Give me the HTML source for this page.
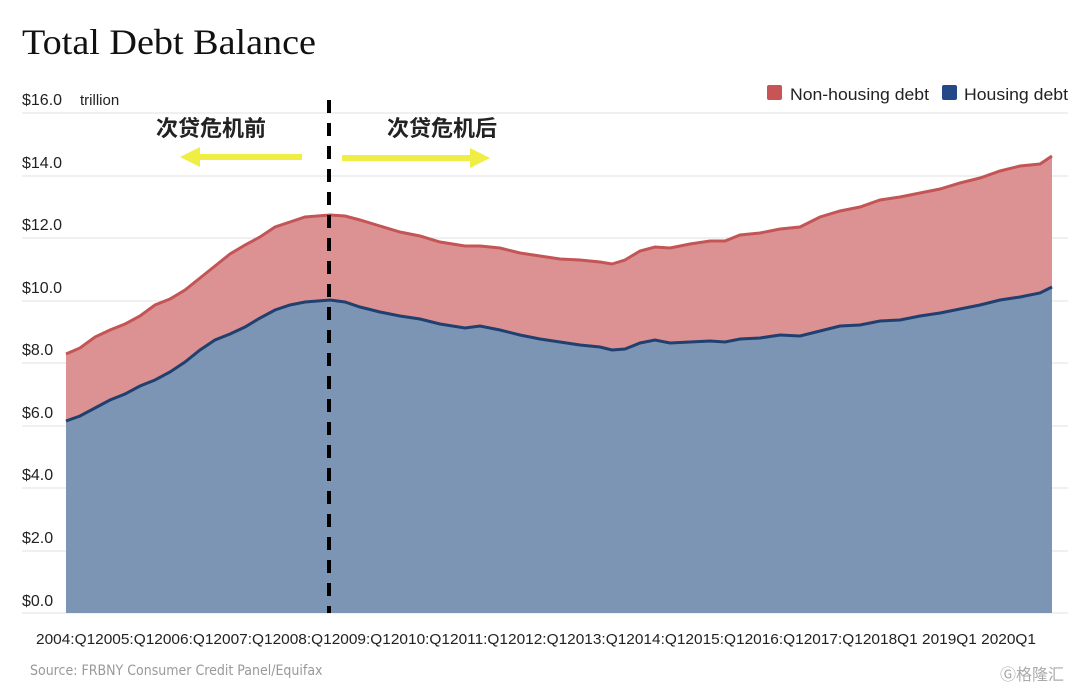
<!DOCTYPE html>
<html><head><meta charset="utf-8"><style>
body{margin:0;background:#fff;}
svg{display:block;}
</style></head><body>
<svg width="1080" height="690" viewBox="0 0 1080 690" xmlns="http://www.w3.org/2000/svg">
<rect width="1080" height="690" fill="#fff"/>
<text x="22" y="54" font-family="Liberation Serif, serif" font-size="36" fill="#111" textLength="294" lengthAdjust="spacingAndGlyphs">Total Debt Balance</text>
<g stroke="#e0e0e0" stroke-width="1">
<line x1="22" x2="1068" y1="113" y2="113"/><line x1="22" x2="1068" y1="176" y2="176"/>
<line x1="22" x2="1068" y1="238" y2="238"/><line x1="22" x2="1068" y1="301" y2="301"/>
<line x1="22" x2="1068" y1="363" y2="363"/><line x1="22" x2="1068" y1="426" y2="426"/>
<line x1="22" x2="1068" y1="488" y2="488"/><line x1="22" x2="1068" y1="551" y2="551"/>
<line x1="22" x2="1068" y1="613" y2="613"/>
</g>
<g font-family="Liberation Sans, sans-serif" font-size="16" fill="#222">
<text x="22" y="105">$16.0</text><text x="80" y="105" font-size="15">trillion</text>
<text x="22" y="168">$14.0</text><text x="22" y="230">$12.0</text><text x="22" y="293">$10.0</text>
<text x="22" y="355">$8.0</text><text x="22" y="418">$6.0</text><text x="22" y="480">$4.0</text>
<text x="22" y="543">$2.0</text><text x="22" y="606">$0.0</text>
</g>
<path fill="#dc9292" stroke="none" d="M66,354 L80,348 95,337 110,330 125,324 140,316 155,305 170,299 185,290 200,278 215,266 230,254 245,245 260,237 275,227 290,222 305,217 330,215 345,216 360,220 380,226 400,232 420,236 440,242 465,246 480,246 500,248 520,253 540,256 560,259 580,260 600,262 612,264 625,260 640,251 655,247 670,248 690,244 710,241 725,241 740,235 760,233 780,229 800,227 820,217 840,211 860,207 880,200 900,197 920,193 940,189 960,183 980,178 1000,171 1020,166 1040,164 1052,156 L1052,613 L66,613Z"/>
<path fill="#7d95b5" stroke="none" d="M66,421 L80,416 95,408 110,400 125,394 140,386 155,380 170,372 185,362 200,350 215,340 230,334 245,327 260,318 275,310 290,305 305,302 330,300 345,302 360,307 380,312 400,316 420,319 440,324 465,328 480,326 500,330 520,335 540,339 560,342 580,345 600,347 612,350 625,349 640,343 655,340 670,343 690,342 710,341 725,342 740,339 760,338 780,335 800,336 820,331 840,326 860,325 880,321 900,320 920,316 940,313 960,309 980,305 1000,300 1020,297 1040,293 1052,287 L1052,613 L66,613Z"/>
<path fill="none" stroke="#c45556" stroke-width="3" d="M66,354 L80,348 95,337 110,330 125,324 140,316 155,305 170,299 185,290 200,278 215,266 230,254 245,245 260,237 275,227 290,222 305,217 330,215 345,216 360,220 380,226 400,232 420,236 440,242 465,246 480,246 500,248 520,253 540,256 560,259 580,260 600,262 612,264 625,260 640,251 655,247 670,248 690,244 710,241 725,241 740,235 760,233 780,229 800,227 820,217 840,211 860,207 880,200 900,197 920,193 940,189 960,183 980,178 1000,171 1020,166 1040,164 1052,156"/>
<path fill="none" stroke="#20406f" stroke-width="3" d="M66,421 L80,416 95,408 110,400 125,394 140,386 155,380 170,372 185,362 200,350 215,340 230,334 245,327 260,318 275,310 290,305 305,302 330,300 345,302 360,307 380,312 400,316 420,319 440,324 465,328 480,326 500,330 520,335 540,339 560,342 580,345 600,347 612,350 625,349 640,343 655,340 670,343 690,342 710,341 725,342 740,339 760,338 780,335 800,336 820,331 840,326 860,325 880,321 900,320 920,316 940,313 960,309 980,305 1000,300 1020,297 1040,293 1052,287"/>
<line x1="329" y1="100" x2="329" y2="613" stroke="#000" stroke-width="4" stroke-dasharray="13,10"/>
<g font-family="Liberation Sans, Noto Sans CJK SC, sans-serif" font-size="22" font-weight="bold" fill="#222">
<text x="156" y="136">次贷危机前</text><text x="387" y="136">次贷危机后</text>
</g>
<g stroke="#f0ee45" stroke-width="6" fill="#f0ee45">
<line x1="198" y1="157" x2="302" y2="157"/><polygon points="180,157 200,147 200,167" stroke="none"/>
<line x1="342" y1="158" x2="472" y2="158"/><polygon points="490,158 470,148 470,168" stroke="none"/>
</g>
<rect x="767" y="85" width="15" height="15" rx="2" fill="#c85456"/>
<rect x="942" y="85" width="15" height="15" rx="2" fill="#234a86"/>
<g font-family="Liberation Sans, sans-serif" font-size="17" fill="#222">
<text x="790" y="100" textLength="139" lengthAdjust="spacingAndGlyphs">Non-housing debt</text><text x="964" y="100" textLength="104" lengthAdjust="spacingAndGlyphs">Housing debt</text>
</g>
<text x="36" y="644" font-family="Liberation Sans, sans-serif" font-size="15" fill="#222" textLength="1000" lengthAdjust="spacingAndGlyphs">2004:Q12005:Q12006:Q12007:Q12008:Q12009:Q12010:Q12011:Q12012:Q12013:Q12014:Q12015:Q12016:Q12017:Q12018Q1 2019Q1 2020Q1</text>
<text x="30" y="675" font-family="DejaVu Sans Condensed, DejaVu Sans, sans-serif" font-size="14" fill="#999">Source: FRBNY Consumer Credit Panel/Equifax</text>
<text x="1000" y="680" font-family="Liberation Sans, Noto Sans CJK SC, sans-serif" font-size="16" fill="#aaa">Ⓖ格隆汇</text>
</svg>
</body></html>
